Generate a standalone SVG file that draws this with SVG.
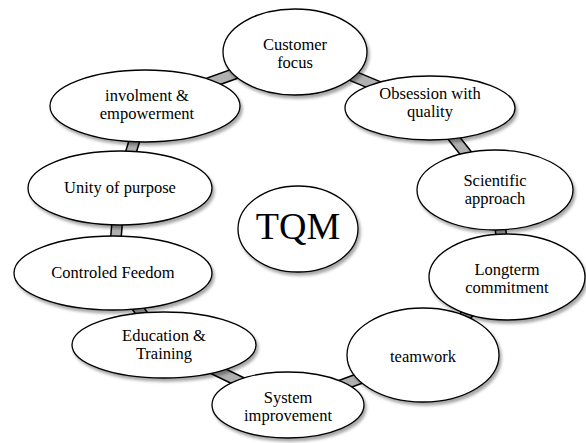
<svg xmlns="http://www.w3.org/2000/svg" width="586" height="443" viewBox="0 0 586 443">
<defs>
<filter id="sh" x="-10%" y="-10%" width="130%" height="140%">
<feDropShadow dx="2" dy="3" stdDeviation="1.5" flood-color="#000" flood-opacity="0.35"/>
</filter>
</defs>
<style>
.n ellipse{fill:#fff;stroke:#000;stroke-width:1.3;filter:url(#sh)}
.n text{font-family:'Liberation Serif','Times New Roman',serif;font-size:16.5px;fill:#000;text-anchor:middle}
.o{stroke:#000;stroke-width:12;fill:none}
.i{stroke:#b0b0b0;stroke-width:9;fill:none}
</style>
<rect width="586" height="443" fill="#fff"/>
<g id="connectors">
<g>
<line class="o" x1="295" y1="52" x2="145" y2="106"/>
<line class="o" x1="295" y1="52" x2="430" y2="108"/>
<line class="o" x1="430" y1="108" x2="495" y2="190"/>
<line class="o" x1="495" y1="190" x2="507" y2="277"/>
<line class="o" x1="507" y1="277" x2="423" y2="355"/>
<line class="o" x1="423" y1="355" x2="288" y2="405"/>
<line class="o" x1="288" y1="405" x2="164" y2="345"/>
<line class="o" x1="164" y1="345" x2="113" y2="273"/>
<line class="o" x1="113" y1="273" x2="120" y2="188"/>
<line class="o" x1="120" y1="188" x2="145" y2="106"/>
</g>
<g>
<line class="i" x1="295" y1="52" x2="145" y2="106"/>
<line class="i" x1="295" y1="52" x2="430" y2="108"/>
<line class="i" x1="430" y1="108" x2="495" y2="190"/>
<line class="i" x1="495" y1="190" x2="507" y2="277"/>
<line class="i" x1="507" y1="277" x2="423" y2="355"/>
<line class="i" x1="423" y1="355" x2="288" y2="405"/>
<line class="i" x1="288" y1="405" x2="164" y2="345"/>
<line class="i" x1="164" y1="345" x2="113" y2="273"/>
<line class="i" x1="113" y1="273" x2="120" y2="188"/>
<line class="i" x1="120" y1="188" x2="145" y2="106"/>
</g>
</g>
<g id="customer" class="n"><ellipse cx="295" cy="52" rx="72" ry="43"/><text x="295" y="50">Customer</text><text x="295" y="68">focus</text></g>
<g id="obsession" class="n"><ellipse cx="430" cy="108" rx="85" ry="32"/><text x="430" y="99">Obsession with</text><text x="430" y="117">quality</text></g>
<g id="scientific" class="n"><ellipse cx="495" cy="190" rx="78" ry="40"/><text x="495" y="186">Scientific</text><text x="495" y="204">approach</text></g>
<g id="longterm" class="n"><ellipse cx="507" cy="277" rx="78" ry="43"/><text x="507" y="275">Longterm</text><text x="507" y="293">commitment</text></g>
<g id="teamwork" class="n"><ellipse cx="423" cy="355" rx="76" ry="47"/><text x="423" y="362">teamwork</text></g>
<g id="system" class="n"><ellipse cx="288" cy="405" rx="76" ry="33"/><text x="288" y="403">System</text><text x="288" y="421">improvement</text></g>
<g id="education" class="n"><ellipse cx="164" cy="345" rx="92" ry="33"/><text x="164" y="341">Education &amp;</text><text x="164" y="359">Training</text></g>
<g id="controled" class="n"><ellipse cx="113" cy="273" rx="99" ry="37"/><text x="113" y="278">Controled Feedom</text></g>
<g id="unity" class="n"><ellipse cx="120" cy="188" rx="92" ry="37"/><text x="120" y="193">Unity of purpose</text></g>
<g id="involment" class="n"><ellipse cx="145" cy="106" rx="95" ry="36"/><text x="147" y="101">involment &amp;</text><text x="147" y="119">empowerment</text></g>
<g id="tqm" class="n"><ellipse cx="298" cy="229" rx="60" ry="43"/><text x="298" y="239" style="font-size:38px">TQM</text></g>
</svg>
